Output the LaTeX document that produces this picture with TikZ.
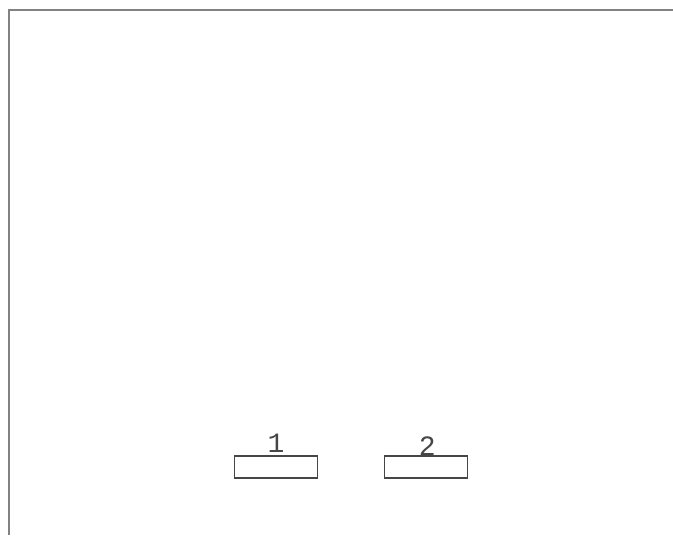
\documentclass[tikz,border=0pt]{standalone}
\usepackage{fontspec}
\usepackage{tikz}
\setmonofont{Liberation Mono}
\definecolor{inkgray}{RGB}{70,70,70}
\definecolor{framegray}{RGB}{130,130,130}

\begin{document}
\begin{tikzpicture}[x=0.75pt,y=-0.75pt,
    slot/.style={draw=inkgray,line width=0.9pt,minimum width=62pt,minimum height=16.5pt,inner sep=0pt},
    slotlabel/.style={inkgray,font=\ttfamily\fontsize{21}{21}\selectfont,inner sep=0pt,anchor=base}]
        \useasboundingbox (0,0) rectangle (673,535);
        \draw[framegray,line width=1pt] (9,535)--(9,10)--(673,10);
        \node[slot] (slotA) at (276,467) {};
        \node[slot] (slotB) at (426,467) {};
        \node[slotlabel] (labA) at ([yshift=2pt]slotA.north) {1};
        \node[slotlabel] (labB) at ([xshift=1pt]slotB.north) {2};
      \end{tikzpicture}
\end{document}
